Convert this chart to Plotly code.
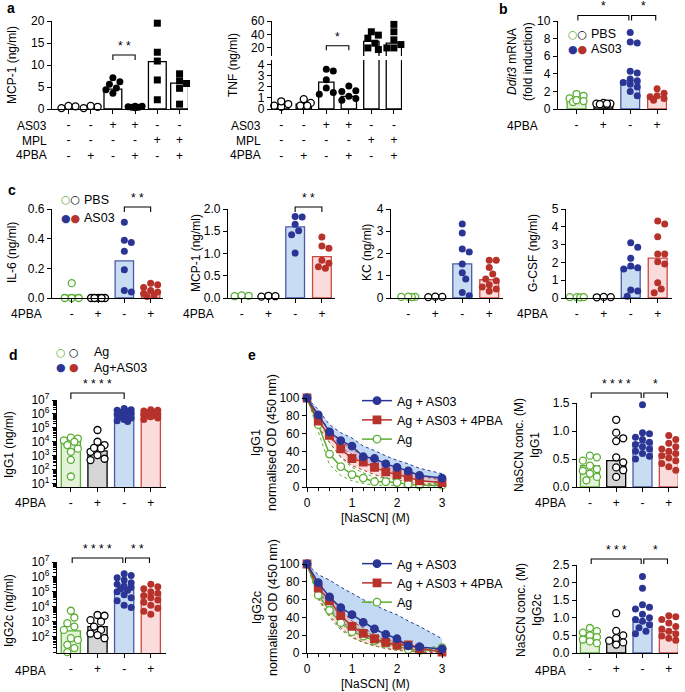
import numpy as np
import plotly.graph_objects as go

W, H = 685, 692
FONT = "Liberation Sans, Arial, sans-serif"
TICK, TITLE = 12, 12

GREEN, GREEN_FILL = "#5aae33", "#e3f2d8"
BLUE, BLUE_FILL, BLUE_EDGE = "#2b3595", "#c8dcf2", "#4a5aa8"
RED, RED_FILL, RED_EDGE = "#b7322a", "#fbdcdc", "#c94a40"
GRAY_FILL = "#d5d5d5"

# ---------------------------------------------------------------------------
# data
# ---------------------------------------------------------------------------
A_AS03 = ["-", "-", "+", "+", "-", "-"]
A_MPL = ["-", "-", "-", "-", "+", "+"]
A_PBA = ["-", "+", "-", "+", "-", "+"]
A_MCP1 = [[0.6, 0.2, 0.7], [0.5, 0.2, 0.7],
          [7.1, 6.2, 5.6, 4.8, 4.4, 3.6], [0.6, 0.4, 0.3, 0.5, 0.6, 0.4],
          [19.5, 12.9, 10.9, 6.6, 2.1], [8.0, 6.4, 5.8, 4.7, 1.1]]
A_MCP1_BAR = [0.5, 0.45, 4.5, 0.5, 10.75, 5.9]
A_TNF = [[0.45, 0.2, 0.7, 0.3], [0.55, 0.3, 0.3, 0.9],
         [3.6, 3.45, 2.65, 1.9, 1.5, 1.35], [2.1, 1.65, 1.6, 1.15, 0.8, 0.95],
         [44, 39, 34.5, 27, 20, 17.6], [55, 44, 32, 25, 20, 20]]
A_TNF_BAR = [0.4, 0.45, 2.44, 1.14, 29.6, 27]

PBA4 = ["-", "+", "-", "+"]
B_DDIT3 = [[1.7, 1.5, 1.2, 0.9, 0.8, 1.0],
           [0.6, 0.5, 0.7, 0.6, 0.5, 0.6, 0.55],
           [8.7, 7.6, 7.5, 4.3, 4.1, 3.4, 3.2, 3.0, 2.8, 2.5, 2.0, 1.5],
           [2.3, 1.8, 1.5, 1.4, 1.2, 1.0]]
B_DDIT3_BAR = [1.15, 0.6, 3.2, 1.4]

C_IL6 = [[0.1, 0.0, 0.0, 0.0], [0.0, 0.0, 0.0, 0.0, 0.0],
         [0.51, 0.39, 0.375, 0.315, 0.19, 0.05, 0.04],
         [0.1, 0.09, 0.07, 0.05, 0.04, 0.03, 0.02, 0.01]]
C_IL6_BAR = [0.02, 0.0, 0.25, 0.04]
C_MCP1 = [[0.05, 0.04, 0.06], [0.03, 0.05, 0.04],
          [1.83, 1.82, 1.66, 1.51, 1.42, 1.01],
          [1.37, 1.17, 1.12, 0.85, 0.78, 0.7, 0.67]]
C_MCP1_BAR = [0.05, 0.04, 1.6, 0.93]
C_KC = [[0.05, 0.04, 0.05, 0.06], [0.05, 0.04, 0.06],
        [3.33, 2.92, 2.2, 2.07, 1.53, 1.14, 0.85, 0.25, 0.1],
        [1.7, 1.7, 1.37, 1.08, 0.85, 0.77, 0.6, 0.5, 0.4, 0.3]]
C_KC_BAR = [0.04, 0.04, 1.53, 0.82]
C_GCSF = [[0.05, 0.04, 0.05, 0.05], [0.05, 0.04, 0.06],
          [3.1, 2.85, 2.24, 1.8, 1.7, 1.63, 0.45, 0.4, 0.1],
          [4.33, 4.16, 3.44, 2.47, 2.47, 2.04, 1.91, 0.85, 0.5, 0.3]]
C_GCSF_BAR = [0.04, 0.04, 1.67, 2.24]

D_IGG1 = [[2.0e4, 1.7e4, 1.26e4, 1.0e4, 5.8e3, 3.2e3, 1.9e3, 5.0e2, 32],
          [7.0e4, 1.0e4, 5.8e3, 3.3e3, 1.9e3, 1.1e3, 6.0e2, 4.8e2, 3.6e3],
          [2.5e6, 2.0e6, 1.8e6, 1.6e6, 1.26e6, 1.1e6, 1.0e6, 8.9e5, 7.9e5,
           6.3e5, 5.0e5, 4.0e5, 3.2e5, 2.8e5],
          [2.0e6, 1.8e6, 1.6e6, 1.4e6, 1.26e6, 1.1e6, 1.0e6, 8.9e5, 7.9e5,
           7.1e5, 6.3e5, 5.0e5, 4.0e5]]
D_IGG1_BAR = [1.8e4, 2.2e3, 1.1e6, 1.0e6]
D_IGG2C = [[5.4e3, 1.9e3, 7.9e2, 4.7e2, 2.8e2, 78, 60, 28, 17, 9],
           [2.8e3, 2.5e3, 1.26e3, 1.0e3, 4.7e2, 2.8e2, 1.6e2, 1.26e2, 78],
           [1.6e6, 1.26e6, 8.9e5, 6.3e5, 4.0e5, 3.2e5, 2.5e5, 2.0e5, 1.6e5,
            1.26e5, 1.0e5, 6.3e4, 4.0e4, 2.5e4, 1.26e4, 8.9e3],
           [3.2e5, 2.2e5, 1.6e5, 1.0e5, 7.9e4, 5.6e4, 4.0e4, 2.8e4, 2.0e4,
            1.26e4, 7.9e3, 5.0e3, 3.2e3]]
D_IGG2C_BAR = [2.4e2, 4.7e2, 1.35e5, 6.3e4]

CONC = [0, 0.25, 0.5, 0.75, 1.0, 1.25, 1.5, 1.75, 2.0, 2.25, 2.5, 3.0]
E1_BLUE = [100, 81, 62, 52, 46, 34, 32, 26, 22, 18, 13, 10]
E1_BLUE_HI = [100, 87, 70, 61, 55, 46, 41, 35, 30, 26, 21, 15]
E1_BLUE_LO = [100, 76, 55, 44, 37, 26, 23, 18, 14, 11, 7, 5]
E1_RED = [100, 74, 58, 43, 32, 28, 22, 17, 14, 11, 7, 5]
E1_RED_HI = [100, 80, 65, 52, 42, 36, 30, 24, 20, 16, 12, 8]
E1_RED_LO = [100, 68, 50, 34, 24, 19, 14, 10, 8, 6, 3, 2]
E1_GREEN = [100, 70, 37, 23, 14, 10, 6, 6, 5, 3, 2, 2]
E1_GREEN_HI = [100, 78, 50, 33, 22, 16, 11, 10, 8, 6, 4, 4]
E1_GREEN_LO = [100, 62, 25, 13, 7, 4, 2, 2, 2, 1, 0, 0]

E2_BLUE = [100, 79, 63, 51, 43, 34.5, 27, 21, 16, 8, 7, 4.5]
E2_BLUE_HI = [100, 88, 82, 74, 67, 60, 54, 48, 43, 36, 30, 16]
E2_BLUE_LO = [100, 70, 50, 36, 27, 19, 13, 10, 7, 4, 3, 1]
E2_RED = [100, 73, 59, 42, 30, 22, 16, 12, 9, 9, 5, 1]
E2_RED_HI = [100, 78, 64, 48, 36, 28, 21, 16, 12, 10, 6, 3]
E2_RED_LO = [100, 62, 42, 28, 18, 12, 8, 5, 3, 2, 1, 0]
E2_GREEN = [100, 65, 48, 34, 24, 19, 14, 11, 8, 4, 3, 6]
E2_GREEN_HI = [100, 70, 55, 42, 31, 25, 19, 15, 11, 7, 5, 8]
E2_GREEN_LO = [100, 60, 40, 26, 17, 12, 8, 6, 4, 2, 1, 3]

E3_IGG1 = [[0.56, 0.53, 0.47, 0.38, 0.32, 0.29, 0.24, 0.18, 0.12],
           [1.2, 0.97, 0.87, 0.82, 0.53, 0.44, 0.35, 0.3, 0.18],
           [1.47, 0.97, 0.95, 0.89, 0.85, 0.8, 0.76, 0.72, 0.68, 0.64, 0.6,
            0.55, 0.5],
           [0.92, 0.85, 0.78, 0.72, 0.68, 0.64, 0.6, 0.56, 0.52, 0.47, 0.42,
            0.36, 0.3]]
E3_IGG1_BAR = [0.38, 0.47, 0.79, 0.59]
E4_IGG2C = [[0.71, 0.62, 0.58, 0.5, 0.45, 0.38, 0.33, 0.28],
            [1.13, 0.63, 0.5, 0.42, 0.35, 0.3, 0.24],
            [2.17, 1.84, 1.37, 1.3, 1.25, 1.1, 1.0, 0.95, 0.9, 0.8, 0.72,
             0.62, 0.55],
            [1.06, 1.03, 0.95, 0.85, 0.75, 0.68, 0.62, 0.55, 0.48, 0.42, 0.36]]
E4_IGG2C_BAR = [0.47, 0.3, 0.87, 0.61]

# ---------------------------------------------------------------------------
# helpers
# ---------------------------------------------------------------------------
# bar fill, bar edge, marker symbol, marker fill, marker edge
STY = {
    "ko": ("white", "black", "circle", "white", "black"),
    "k": ("white", "black", "circle", "black", "black"),
    "ks": ("white", "black", "square", "black", "black"),
    "go": (GREEN_FILL, GREEN, "circle", "white", GREEN),
    "grayo": (GRAY_FILL, "black", "circle", "white", "black"),
    "b": (BLUE_FILL, BLUE_EDGE, "circle", BLUE, BLUE),
    "r": (RED_FILL, RED_EDGE, "circle", RED, RED),
}
FOUR = ["go", "ko", "b", "r"]
FOUR_GRAY = ["go", "grayo", "b", "r"]

AXIS = dict(showline=True, linecolor="black", linewidth=1.3, ticks="outside",
            ticklen=4, tickwidth=1.2, tickcolor="black", showgrid=False,
            zeroline=False, fixedrange=True,
            tickfont=dict(size=TICK, color="black"))

fig = go.Figure()
axes_layout, shapes, notes = {}, [], []
count = [0]


def fx(px):
    return px / W


def fy(py):
    return 1 - py / H


def axes(xs, ys, xr, yr, xkw=None, ykw=None, log=False):
    count[0] += 1
    sx = "" if count[0] == 1 else str(count[0])
    xid, yid = "x" + sx, "y" + sx
    axes_layout["xaxis" + sx] = dict(AXIS, domain=[fx(xs[0]), fx(xs[1])],
                                     range=list(xr), anchor=yid, **(xkw or {}))
    axes_layout["yaxis" + sx] = dict(AXIS, domain=[fy(ys[1]), fy(ys[0])],
                                     range=list(yr), anchor=xid,
                                     type="log" if log else "linear",
                                     **(ykw or {}))
    return dict(x=xid, y=yid, xpx=(xs[1] - xs[0]) / (xr[1] - xr[0]),
                ypx=(ys[1] - ys[0]) / (yr[1] - yr[0]))


def extra_y(ax, ys, yr, ykw=None):
    count[0] += 1
    sx = str(count[0])
    axes_layout["yaxis" + sx] = dict(AXIS, domain=[fy(ys[1]), fy(ys[0])],
                                     range=list(yr), anchor=ax["x"],
                                     **(ykw or {}))
    return "y" + sx, (ys[1] - ys[0]) / (yr[1] - yr[0])


def group_x(*rows):
    return dict(tickvals=list(range(len(rows[0]))),
                ticktext=["<br>".join(c) for c in zip(*rows)])


def swarm(vals, xpx, ypx, log=False, d=7.0, reach=10.0):
    y = np.log10(vals) if log else np.asarray(vals, float)
    yp = y * ypx
    step = d * 0.5
    cands, k = [0.0], 1
    while k * step <= reach:
        cands += [k * step, -k * step]
        k += 1
    placed, offs = [], np.zeros(len(yp))
    for i in np.argsort(-yp, kind="stable"):
        best, best_gap = 0.0, -1.0
        for c in cands:
            gap = min((np.hypot(c - px, yp[i] - py) for px, py in placed),
                      default=1e9)
            if gap >= d:
                best = c
                break
            if gap > best_gap:
                best, best_gap = c, gap
        offs[i] = best
        placed.append((best, yp[i]))
    return offs / xpx


def points(ax, k, vals, s, log=False, size=7, reach=10, yid=None, ypx=None):
    _, _, sym, mfill, medge = STY[s]
    if not vals:
        return
    offs = swarm(vals, ax["xpx"], ypx or ax["ypx"], log, d=size, reach=reach)
    fig.add_trace(go.Scatter(
        x=k + offs, y=vals, mode="markers", cliponaxis=False,
        marker=dict(symbol=sym, size=size, color=mfill,
                    line=dict(color=medge, width=1.3 if mfill == "white" else 0)),
        xaxis=ax["x"], yaxis=yid or ax["y"], showlegend=False, hoverinfo="skip",
    ))


def bars(ax, heights, styles, bw=0.72, yid=None):
    fig.add_trace(go.Bar(
        x=list(range(len(heights))), y=heights, width=bw,
        marker=dict(color=[STY[s][0] for s in styles],
                    line=dict(color=[STY[s][1] for s in styles], width=1.3)),
        xaxis=ax["x"], yaxis=yid or ax["y"], showlegend=False, hoverinfo="skip",
    ))


def dot_bar(ax, groups, heights, styles, log=False, bw=0.72, size=7, reach=10):
    bars(ax, heights, styles, bw)
    for k, (vals, s) in enumerate(zip(groups, styles)):
        points(ax, k, vals, s, log, size, reach)


def bracket(ax, i, j, y_px, text, arm=5, gap=0.0):
    x0, x1 = i + gap, j - gap
    ya, yb = fy(y_px), fy(y_px + arm)
    shapes.append(dict(type="path", xref=ax["x"], yref="paper",
                       path=f"M {x0},{yb} L {x0},{ya} L {x1},{ya} L {x1},{yb}",
                       line=dict(color="black", width=1.1)))
    notes.append(dict(xref=ax["x"], yref="paper", x=(i + j) / 2,
                      y=fy(y_px - 9), text=text, showarrow=False,
                      font=dict(size=12), xanchor="center", yanchor="middle"))


def text(x_px, y_px, s, size=TITLE, xanchor="center", angle=0, bold=False):
    notes.append(dict(xref="paper", yref="paper", x=fx(x_px), y=fy(y_px),
                      text=f"<b>{s}</b>" if bold else s, showarrow=False,
                      textangle=angle, xanchor=xanchor, yanchor="middle",
                      font=dict(size=size)))


def rows(x_right, y_first, labels, dy=14.6):
    for i, lab in enumerate(labels):
        text(x_right, y_first + i * dy, lab, size=TICK, xanchor="right")


def sym_key(x_px, y_px, colors, filled, label, label_x, sep=""):
    glyph = "●" if filled else "○"
    s = sep.join(f"<span style='color:{c}'>{glyph}</span>" for c in colors)
    notes.append(dict(xref="paper", yref="paper", x=fx(x_px), y=fy(y_px),
                      text=s, showarrow=False, xanchor="left",
                      yanchor="middle", font=dict(size=11,
                                                  family="DejaVu Sans")))
    text(label_x, y_px, label, size=12.5, xanchor="left")


def od_plot(ax, series, legend):
    for name, mean, hi, lo, color, band, sym, mfill, rank in series:
        fig.add_trace(go.Scatter(
            x=CONC, y=hi, mode="lines", line=dict(color=color, width=1, dash="dot"),
            xaxis=ax["x"], yaxis=ax["y"], showlegend=False, hoverinfo="skip"))
        fig.add_trace(go.Scatter(
            x=CONC, y=lo, mode="lines", line=dict(color=color, width=1, dash="dot"),
            fill="tonexty" if band else "none", fillcolor=band,
            xaxis=ax["x"], yaxis=ax["y"], showlegend=False, hoverinfo="skip"))
    for name, mean, hi, lo, color, band, sym, mfill, rank in reversed(series):
        fig.add_trace(go.Scatter(
            x=CONC, y=mean, mode="lines+markers", name=name, legend=legend,
            legendrank=rank, cliponaxis=False,
            line=dict(color=color, width=1.5),
            marker=dict(symbol=sym, size=7.5, color=mfill,
                        line=dict(color=color, width=1.3)),
            xaxis=ax["x"], yaxis=ax["y"], hoverinfo="skip"))


# ---------------------------------------------------------------------------
# a
# ---------------------------------------------------------------------------
ya = dict(tickvals=[0, 5, 10, 15, 20])
a1 = axes((52, 188), (21, 109), (-0.74, 5.38), (0, 20),
          group_x(A_AS03, A_MPL, A_PBA), ya)
dot_bar(a1, A_MCP1, A_MCP1_BAR, ["ko", "ko", "k", "k", "ks", "ks"], bw=0.8)
bracket(a1, 2, 3, 55, "* *")
rows(49, 126, ["AS03", "MPL", "4PBA"])
text(12, 65, "MCP-1 (ng/ml)", angle=-90)

a2 = axes((272, 402), (60, 109), (-0.41, 5.36), (0, 4.45),
          group_x(A_AS03, A_MPL, A_PBA), dict(tickvals=[0, 1, 2, 3, 4]))
a2_top, a2_top_px = extra_y(a2, (21, 56), (8, 60), dict(tickvals=[20, 40, 60]))
a_sty = ["ko", "ko", "k", "k", "ks", "ks"]
bars(a2, A_TNF_BAR, a_sty, bw=0.68)
bars(a2, A_TNF_BAR, a_sty, bw=0.68, yid=a2_top)
for k, (vals, s) in enumerate(zip(A_TNF, a_sty)):
    low = [v for v in vals if v <= 4]
    high = [v for v in vals if v > 4]
    points(a2, k, low, s)
    points(a2, k, high, s, yid=a2_top, ypx=a2_top_px)
bracket(a2, 2, 3, 45.7, "*", arm=4.5)
rows(263, 126, ["AS03", "MPL", "4PBA"])
text(233, 65, "TNF (ng/ml)", angle=-90)

# ---------------------------------------------------------------------------
# b
# ---------------------------------------------------------------------------
b = axes((558, 667), (21, 109), (-0.69, 3.37), (0, 10), group_x(PBA4),
         dict(tickvals=[0, 2, 4, 6, 8, 10]))
dot_bar(b, B_DDIT3, B_DDIT3_BAR, FOUR, bw=0.7)
bracket(b, 0, 2, 15.5, "*", gap=0.05)
bracket(b, 2, 3, 15.5, "*", gap=0.05)
rows(540, 126, ["4PBA"])
text(520, 62, "<i>Ddit3</i> mRNA<br>(fold induction)", angle=-90)
sym_key(566, 34, [GREEN, "black"], False, "PBS", 589)
sym_key(566, 49, [BLUE, RED], True, "AS03", 589)

# ---------------------------------------------------------------------------
# c
# ---------------------------------------------------------------------------
c1 = axes((52, 163), (209, 298), (-0.75, 3.47), (0, 0.6), group_x(PBA4),
          dict(tickvals=[0, 0.2, 0.4, 0.6], tickformat=".1f"))
dot_bar(c1, C_IL6, C_IL6_BAR, FOUR, bw=0.7)
bracket(c1, 2, 3, 207, "* *")
rows(44, 314, ["4PBA"])
text(12, 253, "IL-6 (ng/ml)", angle=-90)
sym_key(59, 200, [GREEN, "black"], False, "PBS", 82)
sym_key(59, 218, [BLUE, RED], True, "AS03", 82)

c2 = axes((228, 335), (209, 298), (-0.51, 3.49), (0, 2), group_x(PBA4),
          dict(tickvals=[0, 0.5, 1, 1.5, 2], tickformat=".1f"))
dot_bar(c2, C_MCP1, C_MCP1_BAR, FOUR, bw=0.7)
bracket(c2, 2, 3, 207, "* *")
rows(216, 314, ["4PBA"])
text(196, 253, "MCP-1 (ng/ml)", angle=-90)

c3 = axes((391, 503), (209, 298), (-0.64, 3.51), (0, 4), group_x(PBA4),
          dict(tickvals=[0, 1, 2, 3, 4]))
dot_bar(c3, C_KC, C_KC_BAR, FOUR, bw=0.7)
text(367, 253, "KC (ng/ml)", angle=-90)

c4 = axes((566, 672), (209, 298), (-0.4, 3.53), (0, 5), group_x(PBA4),
          dict(tickvals=[0, 1, 2, 3, 4, 5]))
dot_bar(c4, C_GCSF, C_GCSF_BAR, FOUR, bw=0.7)
rows(550, 314, ["4PBA"])
text(533, 253, "G-CSF (ng/ml)", angle=-90)

# ---------------------------------------------------------------------------
# d
# ---------------------------------------------------------------------------
def log_y(lo, hi):
    exps = list(range(lo, hi + 1))
    return dict(tickvals=[10.0 ** e for e in exps],
                ticktext=[f"10<sup>{e}</sup>" for e in exps],
                minor=dict(ticks="outside", ticklen=2.5, tickcolor="black",
                           tickvals=[m * 10.0 ** e for e in range(0, hi)
                                     for m in range(2, 10)]))


d1 = axes((57, 166), (400, 487), (-0.52, 3.57), (0.75, 7), group_x(PBA4),
          log_y(1, 7), log=True)
dot_bar(d1, D_IGG1, D_IGG1_BAR, FOUR_GRAY, log=True, bw=0.72)
bracket(d1, 0, 2, 393, "* * * *", arm=6)
rows(48, 503, ["4PBA"])
text(9, 445, "IgG1 (ng/ml)", angle=-90)
sym_key(54, 352, [GREEN, "black"], False, "Ag", 92, sep=" ")
sym_key(54, 368, [BLUE, RED], True, "Ag+AS03", 92, sep=" ")

d2 = axes((57, 166), (562, 653), (-0.52, 3.57), (0.9, 7), group_x(PBA4),
          log_y(2, 7), log=True)
dot_bar(d2, D_IGG2C, D_IGG2C_BAR, FOUR_GRAY, log=True, bw=0.72)
bracket(d2, 0, 2, 558, "* * * *", gap=0.05)
bracket(d2, 2, 3, 558, "* *", gap=0.05)
rows(48, 671, ["4PBA"])
text(9, 611, "IgG2c (ng/ml)", angle=-90)

# ---------------------------------------------------------------------------
# e
# ---------------------------------------------------------------------------
ex = dict(dtick=1, tick0=0,
          minor=dict(ticks="outside", ticklen=2.5, dtick=0.25, tickcolor="black"))
ey = dict(dtick=20, tick0=0)
BAND_BLUE, BAND_RED = "rgba(120,170,228,0.45)", "rgba(244,160,160,0.35)"

e1 = axes((307, 442), (398, 487), (0, 3), (0, 100), ex, ey)
od_plot(e1, [
    ("Ag + AS03", E1_BLUE, E1_BLUE_HI, E1_BLUE_LO, BLUE, BAND_BLUE, "circle", BLUE, 1),
    ("Ag + AS03 + 4PBA", E1_RED, E1_RED_HI, E1_RED_LO, RED, BAND_RED, "square", RED, 2),
    ("Ag", E1_GREEN, E1_GREEN_HI, E1_GREEN_LO, GREEN, None, "circle", "white", 3),
], "legend")
text(264, 443, "IgG1<br>normalised OD (450 nm)", 12.5, angle=-90)
text(375, 518, "[NaSCN] (M)")

e2 = axes((307, 442), (564, 653), (0, 3), (0, 100), ex, ey)
od_plot(e2, [
    ("Ag + AS03", E2_BLUE, E2_BLUE_HI, E2_BLUE_LO, BLUE, BAND_BLUE, "circle", BLUE, 1),
    ("Ag + AS03 + 4PBA", E2_RED, E2_RED_HI, E2_RED_LO, RED, BAND_RED, "square", RED, 2),
    ("Ag", E2_GREEN, E2_GREEN_HI, E2_GREEN_LO, GREEN, None, "circle", "white", 3),
], "legend2")
text(265, 608, "IgG2c<br>normalised OD (450 nm)", 12.5, angle=-90)
text(375, 684, "[NaSCN] (M)")

e3 = axes((577, 678), (403, 487), (-0.49, 3.35), (0, 1.5), group_x(PBA4),
          dict(tickvals=[0, 0.5, 1, 1.5], tickformat=".1f"))
dot_bar(e3, E3_IGG1, E3_IGG1_BAR, FOUR_GRAY, bw=0.72)
bracket(e3, 0, 2, 393, "* * * *", gap=0.05)
bracket(e3, 2, 3, 393, "*", gap=0.05)
rows(568, 503, ["4PBA"])
text(527, 445, "NaSCN conc. (M)<br>IgG1", angle=-90)

e4 = axes((577, 678), (565, 653), (-0.49, 3.35), (0, 2.5), group_x(PBA4),
          dict(tickvals=[0, 0.5, 1, 1.5, 2, 2.5], tickformat=".1f"))
dot_bar(e4, E4_IGG2C, E4_IGG2C_BAR, FOUR_GRAY, bw=0.72)
bracket(e4, 0, 2, 559, "* * *", gap=0.05)
bracket(e4, 2, 3, 559, "*", gap=0.05)
rows(568, 671, ["4PBA"])
text(529, 610, "NaSCN conc. (M)<br>IgG2c", angle=-90)

# panel letters
for letter, (lx, ly) in {"a": (11, 8), "b": (503, 9), "c": (12, 190),
                         "d": (13, 355), "e": (252, 355)}.items():
    text(lx, ly, letter, 14, bold=True)

legend_style = dict(bgcolor="rgba(0,0,0,0)", font=dict(size=12.5, color="black"),
                    xanchor="left", yanchor="top", itemwidth=30,
                    tracegroupgap=0, traceorder="normal")
fig.update_layout(
    width=W, height=H, margin=dict(l=0, r=0, t=0, b=0),
    paper_bgcolor="white", plot_bgcolor="rgba(0,0,0,0)", template="none",
    font=dict(family=FONT, color="black", size=TICK),
    barmode="overlay", showlegend=True,
    legend=dict(legend_style, x=fx(357), y=fy(386)),
    legend2=dict(legend_style, x=fx(357), y=fy(549)),
    shapes=shapes, annotations=notes, **axes_layout,
)
# the page body has a default 8px margin; drop it so the figure sits at 0,0
fig.write_html("out.html", config={"displayModeBar": False},
               post_script="document.body.style.margin='0';")
